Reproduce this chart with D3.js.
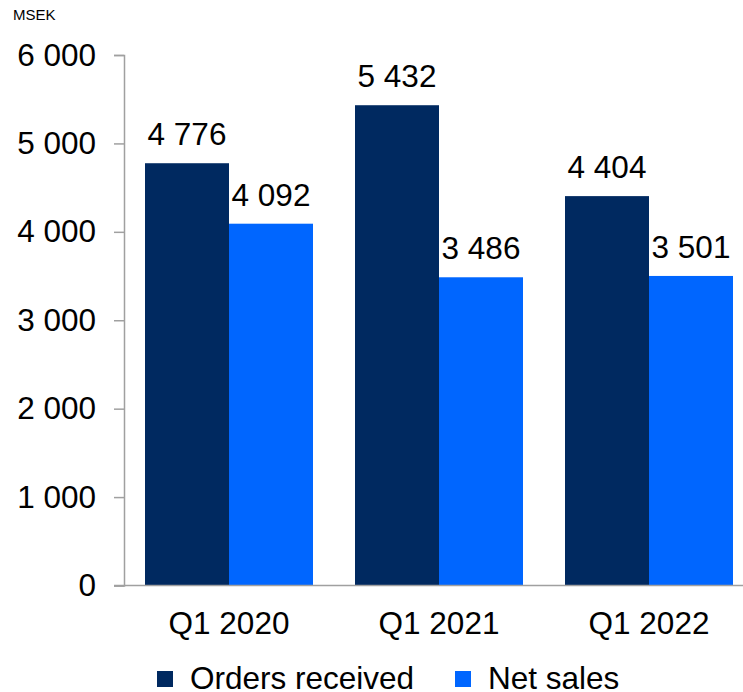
<!DOCTYPE html>
<html>
<head>
<meta charset="utf-8">
<script src="https://cdn.jsdelivr.net/npm/d3@7"></script>
<style>
  html, body { margin: 0; padding: 0; background: #fff; }
  svg { display: block; font-family: "Liberation Sans", Arial, sans-serif; }
</style>
</head>
<body>
<svg id="chart" width="743" height="692"></svg>
<script>
// Quarterly order intake and net sales, MSEK
const quarters = ["Q1 2020", "Q1 2021", "Q1 2022"];
const seriesNames = ["Orders received", "Net sales"];
const ordersReceived = [4776, 5432, 4404];
const netSales = [4092, 3486, 3501];
const yTicks = [0, 1000, 2000, 3000, 4000, 5000, 6000];
const colors = ["#002960", "#0066ff"];

const svg = d3.select("#chart");
const fmt = v => d3.format(",")(v).replace(/,/g, " ");
const FS = 31.5;

const x = d3.scaleBand().domain(quarters).range([124, 754]).padding(0);
const xs = d3.scaleBand().domain(seriesNames).range([0, 168]);
const y = d3.scaleLinear().domain([0, 6000]).range([585.5, 55]);

const rows = quarters.map((q, i) => ({
  q, values: [ordersReceived[i], netSales[i]]
}));

// Bars
const groups = svg.append("g").selectAll("g").data(rows).join("g")
  .attr("transform", d => `translate(${x(d.q) + (x.bandwidth() - 168) / 2},0)`);

groups.selectAll("rect").data(d => d.values.map((v, j) => ({ v, j })))
  .join("rect")
  .attr("x", d => xs(seriesNames[d.j]))
  .attr("width", xs.bandwidth())
  .attr("y", d => y(d.v))
  .attr("height", d => y(0) - y(d.v))
  .attr("fill", d => colors[d.j]);

// Value labels
groups.selectAll("text").data(d => d.values.map((v, j) => ({ v, j })))
  .join("text")
  .attr("x", d => xs(seriesNames[d.j]) + xs.bandwidth() / 2)
  .attr("y", d => y(d.v) - 18)
  .attr("text-anchor", "middle")
  .attr("font-size", FS)
  .attr("fill", "#000")
  .text(d => fmt(d.v));

// Y axis
const yAxis = svg.append("g")
  .attr("transform", "translate(124,0)")
  .call(d3.axisLeft(y).tickValues(yTicks).tickFormat(fmt).tickSize(10).tickSizeOuter(10).tickPadding(18));
yAxis.select(".domain").attr("stroke", "#a0a0a0").attr("stroke-width", 1.5);
yAxis.selectAll(".tick line").attr("stroke", "#a0a0a0").attr("stroke-width", 1.5);
yAxis.selectAll(".tick text")
  .attr("font-size", FS).attr("fill", "#000")
  .attr("font-family", "Liberation Sans, Arial, sans-serif");

// X axis
const xAxis = svg.append("g")
  .attr("transform", `translate(0,${y(0)})`)
  .call(d3.axisBottom(x).tickSize(0).tickPadding(26));
xAxis.select(".domain").remove();
svg.append("line")
  .attr("x1", 114).attr("x2", 743)
  .attr("y1", y(0)).attr("y2", y(0))
  .attr("stroke", "#a0a0a0").attr("stroke-width", 1.5);
xAxis.selectAll(".tick text")
  .attr("font-size", FS).attr("fill", "#000")
  .attr("font-family", "Liberation Sans, Arial, sans-serif");

// Unit label
svg.append("text")
  .attr("x", 13).attr("y", 20)
  .attr("font-size", 15).attr("fill", "#000")
  .text("MSEK");

// Legend
const legendItems = [
  { name: seriesNames[0], color: colors[0], sx: 157, tx: 190 },
  { name: seriesNames[1], color: colors[1], sx: 455, tx: 488 }
];
const legend = svg.append("g").selectAll("g").data(legendItems).join("g");
legend.append("rect")
  .attr("x", d => d.sx).attr("y", 671)
  .attr("width", 16).attr("height", 16)
  .attr("fill", d => d.color);
legend.append("text")
  .attr("x", d => d.tx).attr("y", 689)
  .attr("font-size", FS).attr("fill", "#000")
  .text(d => d.name);
</script>
</body>
</html>
